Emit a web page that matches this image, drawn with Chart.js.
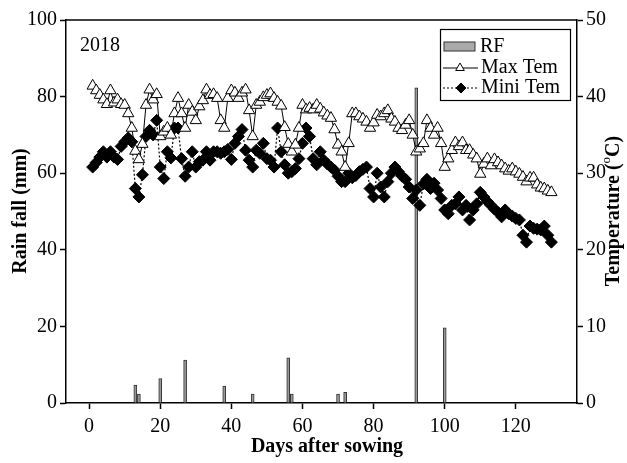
<!DOCTYPE html>
<html>
<head>
<meta charset="utf-8">
<script src="https://cdn.jsdelivr.net/npm/chart.js@4.4.0/dist/chart.umd.min.js"></script>
<style>
html, body { margin: 0; padding: 0; background: #fff; }
</style>
</head>
<body>
<canvas id="chart" width="627" height="463"></canvas>
<script>
// days after sowing for the daily temperature series
const days = [
  1, 2, 3, 4, 5, 6, 7, 8, 9, 10,
  11, 12, 13, 14, 15, 16, 17, 18, 19, 20,
  21, 22, 23, 24, 25, 26, 27, 28, 29, 30,
  31, 32, 33, 34, 35, 36, 37, 38, 39, 40,
  41, 42, 43, 44, 45, 46, 47, 48, 49, 50,
  51, 52, 53, 54, 55, 56, 57, 58, 59, 60,
  61, 62, 63, 64, 65, 66, 67, 68, 69, 70,
  71, 72, 73, 74, 75, 76, 77, 78, 79, 80,
  81, 82, 83, 84, 85, 86, 87, 88, 89, 90,
  91, 92, 93, 94, 95, 96, 97, 98, 99, 100,
  101, 102, 103, 104, 105, 106, 107, 108, 109, 110,
  111, 112, 113, 114, 115, 116, 117, 118, 119, 120,
  121, 122, 123, 124, 125, 126, 127, 128, 129, 130
];

const maxTem = [
  41.4, 40.8, 40.2, 39.6, 39.0, 40.8, 39.2, 39.6, 39.0, 38.9,
  37.8, 35.9, 32.9, 31.8, 33.8, 38.9, 40.9, 39.6, 40.3, 34.8,
  35.4, 35.9, 35.0, 37.8, 39.8, 37.8, 35.9, 38.9, 38.0, 36.9,
  38.7, 39.5, 40.9, 40.2, 40.3, 39.8, 36.9, 35.9, 39.8, 40.8,
  40.5, 39.8, 40.5, 40.9, 38.2, 34.8, 38.9, 39.3, 39.9, 40.2,
  40.4, 39.8, 39.3, 38.8, 36.0, 33.8, 32.8, 33.7, 35.9, 38.9,
  38.3, 38.5, 38.3, 38.9, 38.4, 37.9, 37.5, 37.2, 35.7, 33.7,
  32.8, 30.8, 33.9, 37.8, 37.8, 37.4, 37.1, 36.7, 35.9, 36.6,
  37.6, 37.4, 37.8, 38.2, 37.1, 36.7, 35.9, 35.6, 36.3, 36.9,
  35.0, 32.8, 33.2, 33.9, 36.9, 35.9, 35.0, 35.9, 33.9, 30.8,
  31.9, 33.0, 34.0, 33.5, 34.0, 33.0, 33.0, 32.4, 31.9, 29.9,
  31.2, 31.9, 31.0, 31.8, 31.4, 31.0, 30.6, 30.3, 30.6, 30.2,
  29.9, 29.5, 28.9, 29.4, 29.4, 28.5, 28.1, 28.0, 27.7, 27.5
];

const miniTem = [
  30.8, 31.4, 32.1, 32.8, 32.1, 32.8, 32.1, 31.8, 33.5, 34.1,
  34.6, 34.1, 28.0, 26.9, 29.8, 34.8, 35.6, 35.0, 36.9, 30.8,
  29.3, 32.8, 32.0, 35.9, 35.9, 31.9, 29.6, 30.8, 32.8, 30.8,
  31.5, 31.7, 32.8, 31.7, 32.8, 32.8, 32.6, 32.8, 33.1, 31.8,
  33.9, 34.8, 35.7, 33.0, 31.7, 30.8, 33.0, 32.6, 33.9, 31.9,
  31.7, 30.8, 35.9, 32.8, 31.1, 30.0, 30.2, 30.6, 31.9, 33.9,
  35.9, 34.8, 31.9, 31.1, 32.8, 31.7, 31.2, 30.8, 30.4, 29.6,
  28.9, 28.9, 30.0, 29.4, 29.7, 30.2, 30.5, 30.8, 28.0, 26.9,
  30.0, 28.2, 26.9, 28.9, 30.0, 30.8, 30.2, 29.6, 29.2, 28.2,
  26.7, 27.8, 25.8, 28.6, 29.2, 28.0, 28.7, 27.8, 26.7, 25.2,
  24.7, 25.8, 26.0, 26.9, 25.2, 25.8, 23.9, 25.2, 26.0, 27.5,
  26.9, 26.3, 25.8, 25.3, 24.9, 24.3, 25.2, 24.7, 24.4, 24.1,
  23.9, 21.9, 21.0, 23.1, 22.8, 22.7, 22.6, 23.1, 21.9, 21.0
];

// rainfall events
const rainDays = [13, 14, 20, 27, 38, 46, 56, 57, 70, 72, 92, 100];
const rainMm = [4.7, 2.3, 6.4, 11.2, 4.4, 2.3, 11.8, 2.3, 2.3, 2.8, 82.3, 19.6];

// tick labels
const xTicks = [0, 20, 40, 60, 80, 100, 120];
const rainTicks = [0, 20, 40, 60, 80, 100];
const temTicks = [0, 10, 20, 30, 40, 50];

const serif = "'Liberation Serif', 'Times New Roman', serif";
const tickFont = { family: serif, size: 20 };

function pairs(xs, ys) {
  return xs.map((x, i) => ({ x: x, y: ys[i] }));
}

function axisStyle(tickList, size, isX) {
  return {
    offset: false,
    afterBuildTicks: s => { s.ticks = tickList.map(v => ({ value: v })); },
    afterFit: s => { if (isX) s.height = size; else s.width = size; },
    grid: { offset: false, drawOnChartArea: false, drawTicks: true, tickLength: 6, tickColor: "#000", tickWidth: 1.5 },
    border: { display: true, color: "#000", width: 1.5 },
    ticks: { font: tickFont, color: "#000", padding: isX ? 6 : 3, maxRotation: 0 }
  };
}

// titles, frame and legend
const extras = {
  id: "extras",
  afterDraw(chart) {
    const ctx = chart.ctx;
    const a = chart.chartArea;
    ctx.save();
    ctx.strokeStyle = "#000";
    ctx.lineWidth = 1.5;
    ctx.beginPath();
    ctx.moveTo(a.left, a.top);
    ctx.lineTo(a.right, a.top);
    ctx.stroke();

    ctx.fillStyle = "#000";
    ctx.font = "20px " + serif;
    ctx.textAlign = "left";
    ctx.textBaseline = "middle";
    ctx.fillText("2018", 80, 46);

    ctx.font = "bold 20px " + serif;
    ctx.textAlign = "center";
    ctx.fillText("Days after sowing", 327, 447);

    ctx.save();
    ctx.translate(21, 211);
    ctx.rotate(-Math.PI / 2);
    ctx.fillText("Rain fall (mm)", 0, 0);
    ctx.restore();

    // right title with superscript o
    ctx.save();
    ctx.translate(614, 211);
    ctx.rotate(-Math.PI / 2);
    const p1 = "Temperature (", p3 = "C)";
    ctx.font = "bold 20px " + serif;
    const w1 = ctx.measureText(p1).width, w3 = ctx.measureText(p3).width;
    ctx.font = "13px " + serif;
    const w2 = ctx.measureText("o").width;
    const x0 = -(w1 + w2 + w3) / 2;
    ctx.textAlign = "left";
    ctx.font = "bold 20px " + serif;
    ctx.fillText(p1, x0, 0);
    ctx.font = "13px " + serif;
    ctx.fillText("o", x0 + w1, -7);
    ctx.font = "bold 20px " + serif;
    ctx.fillText(p3, x0 + w1 + w2, 0);
    ctx.restore();

    // legend
    ctx.fillStyle = "#fff";
    ctx.fillRect(440.5, 29.5, 130, 71);
    ctx.lineWidth = 1.2;
    ctx.strokeRect(440.5, 29.5, 130, 71);
    ctx.fillStyle = "#aaa";
    ctx.fillRect(444, 42, 31, 9);
    ctx.lineWidth = 1;
    ctx.strokeStyle = "#333";
    ctx.strokeRect(444, 42, 31, 9);
    ctx.strokeStyle = "#000";
    ctx.beginPath();
    ctx.moveTo(443, 68);
    ctx.lineTo(478, 68);
    ctx.stroke();
    ctx.fillStyle = "#fff";
    Chart.helpers.drawPoint(ctx, { pointStyle: "triangle", radius: 5, borderWidth: 1 }, 460, 68);
    ctx.setLineDash([2, 2]);
    ctx.beginPath();
    ctx.moveTo(443, 88);
    ctx.lineTo(478, 88);
    ctx.stroke();
    ctx.setLineDash([]);
    ctx.fillStyle = "#000";
    Chart.helpers.drawPoint(ctx, { pointStyle: "rectRot", radius: 5, borderWidth: 1 }, 461, 88);
    ctx.font = "20px " + serif;
    ctx.textAlign = "left";
    ctx.textBaseline = "middle";
    ctx.fillText("RF", 480, 47);
    ctx.fillText("Max Tem", 481, 68);
    ctx.fillText("Mini Tem", 481, 88);
    ctx.restore();
  }
};

new Chart(document.getElementById("chart"), {
  type: "bar",
  data: {
    datasets: [
      {
        type: "line",
        label: "Max Tem",
        data: pairs(days, maxTem),
        yAxisID: "yT",
        borderColor: "#000",
        borderWidth: 1,
        pointStyle: "triangle",
        pointRadius: 6.5,
        pointBackgroundColor: "#fff",
        pointBorderColor: "#000",
        pointBorderWidth: 1,
        tension: 0,
        order: 1
      },
      {
        type: "line",
        label: "Mini Tem",
        data: pairs(days, miniTem),
        yAxisID: "yT",
        borderColor: "#000",
        borderWidth: 1.2,
        borderDash: [2, 2],
        pointStyle: "rectRot",
        pointRadius: 6,
        pointBackgroundColor: "#000",
        pointBorderColor: "#000",
        pointBorderWidth: 1,
        tension: 0,
        order: 2
      },
      {
        type: "bar",
        label: "RF",
        data: pairs(rainDays, rainMm),
        yAxisID: "yR",
        backgroundColor: "#999",
        borderColor: "#333",
        borderWidth: 1,
        barThickness: 3,
        grouped: false,
        order: 3
      }
    ]
  },
  options: {
    responsive: false,
    animation: false,
    devicePixelRatio: 1,
    layout: { padding: { top: 20, left: 0, right: 0, bottom: 0 } },
    plugins: { legend: { display: false }, tooltip: { enabled: false } },
    scales: {
      x: Object.assign({ type: "linear", position: "bottom", min: -6.5, max: 137.2 }, axisStyle(xTicks, 60, true)),
      yR: Object.assign({ type: "linear", position: "left", min: 0, max: 100 }, axisStyle(rainTicks, 66, false)),
      yT: Object.assign({ type: "linear", position: "right", min: 0, max: 50 }, axisStyle(temTicks, 50, false))
    }
  },
  plugins: [extras]
});
</script>
</body>
</html>
